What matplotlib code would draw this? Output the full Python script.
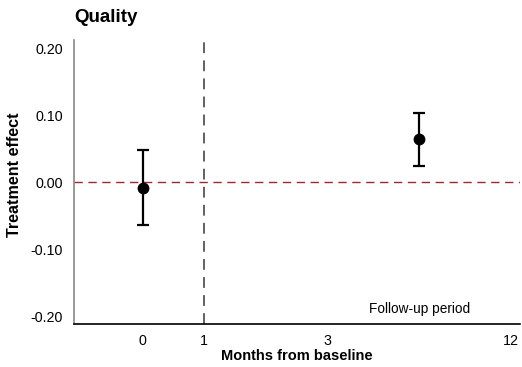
import matplotlib
matplotlib.use('Agg')
import matplotlib.pyplot as plt

plt.rcParams['font.family'] = ['Liberation Sans', 'DejaVu Sans']

# tick labels sit at evenly spaced positions, not on a real month scale
tick_pos = [0, 1, 3, 6]
tick_labels = ["0", "1", "3", "12"]
# estimates
est_x = [0, 4.5]
est_y = [-0.008, 0.064]
ci_low = [-0.063, 0.024]
ci_high = [0.048, 0.104]
y_ticks = [-0.20, -0.10, 0.00, 0.10, 0.20]

fig = plt.figure(figsize=(5.22, 3.67), dpi=100)
ax = fig.add_axes([0.142, 0.117, 0.854, 0.774])

ax.axhline(0, color="#9a2a2e", linestyle=(0, (6, 4)), linewidth=1)
ax.axvline(1, color="#555555", linestyle=(0, (6, 4)), linewidth=1.3)

yerr = [[y - lo for y, lo in zip(est_y, ci_low)], [hi - y for y, hi in zip(est_y, ci_high)]]
ax.errorbar(est_x, est_y, yerr=yerr, fmt="o", color="black", markersize=7.5,
            elinewidth=1.6, capsize=4, capthick=1.6, zorder=3)

ax.text(4.5, -0.199, "Follow-up period", ha="center", va="bottom", fontsize=9.8)

ax.set_xlim(-1.12, 6.14)
ax.set_ylim(-0.211, 0.212)
ax.set_xticks(tick_pos)
ax.set_xticklabels(tick_labels)
ax.set_yticks(y_ticks)
ax.set_yticklabels(["%.2f" % v for v in y_ticks])
ax.tick_params(length=0, labelsize=10.3)
ax.tick_params(axis="x", pad=7)
ax.tick_params(axis="y", pad=8)

ax.spines["top"].set_visible(False)
ax.spines["right"].set_visible(False)
ax.spines["left"].set_color("#888888")
ax.spines["left"].set_linewidth(1.2)
ax.spines["bottom"].set_color("black")
ax.spines["bottom"].set_linewidth(1.2)

ax.set_xlabel("Months from baseline", fontweight="bold", fontsize=10.5, labelpad=1)
ax.set_ylabel("Treatment effect", fontweight="bold", fontsize=11.6)
ax.yaxis.set_label_coords(-0.116, 0.525)
fig.text(0.142, 0.952, "Quality", fontweight="bold", fontsize=13.5, ha="left", va="center")

fig.savefig("out.png", dpi=100)
